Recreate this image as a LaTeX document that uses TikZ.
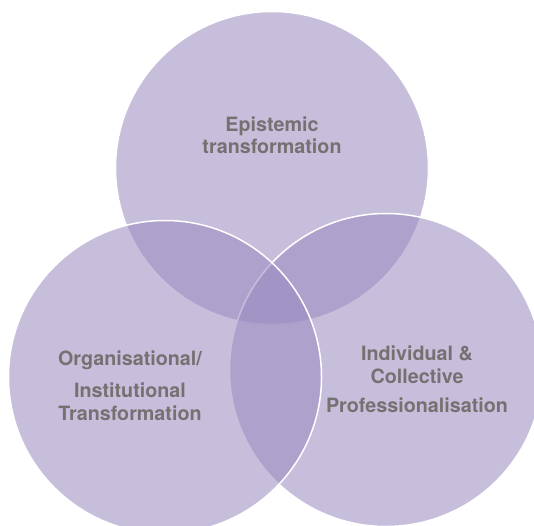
\documentclass[tikz,border=0pt]{standalone}
\usepackage{fontspec}
\setmainfont{TeX Gyre Heros}
\definecolor{vennfill}{RGB}{153,137,191}
\definecolor{labelgray}{RGB}{118,113,113}
\begin{document}
\begin{tikzpicture}[x=1bp,y=-1bp,
  venn/.style={circle, inner sep=0pt, minimum size=313bp, fill=vennfill, fill opacity=0.55, draw=white, draw opacity=1, line width=1.5bp},
  lbl/.style={font=\fontsize{19.8}{24}\selectfont\bfseries, text=labelgray, align=center, inner sep=0pt, anchor=base}
]
\useasboundingbox (0,0) rectangle (534,526);
\node[venn] (top) at (272,168) {};
\node[venn] (right) at (386,370) {};
\node[venn] (left) at (165,377) {};
\node[lbl] (t1) at (272,132) {Epistemic};
\node[lbl] (t2) at (272,154) {transformation};
\node[lbl] (l1) at (130,365) {Organisational/};
\node[lbl] (l2) at (130,397.5) {Institutional};
\node[lbl] (l3) at (130,420) {Transformation};
\node[lbl] (r1) at (417,360.5) {Individual \&};
\node[lbl] (r2) at (417,383) {Collective};
\node[lbl] (r3) at (417,412.5) {Professionalisation};
\end{tikzpicture}
\end{document}
